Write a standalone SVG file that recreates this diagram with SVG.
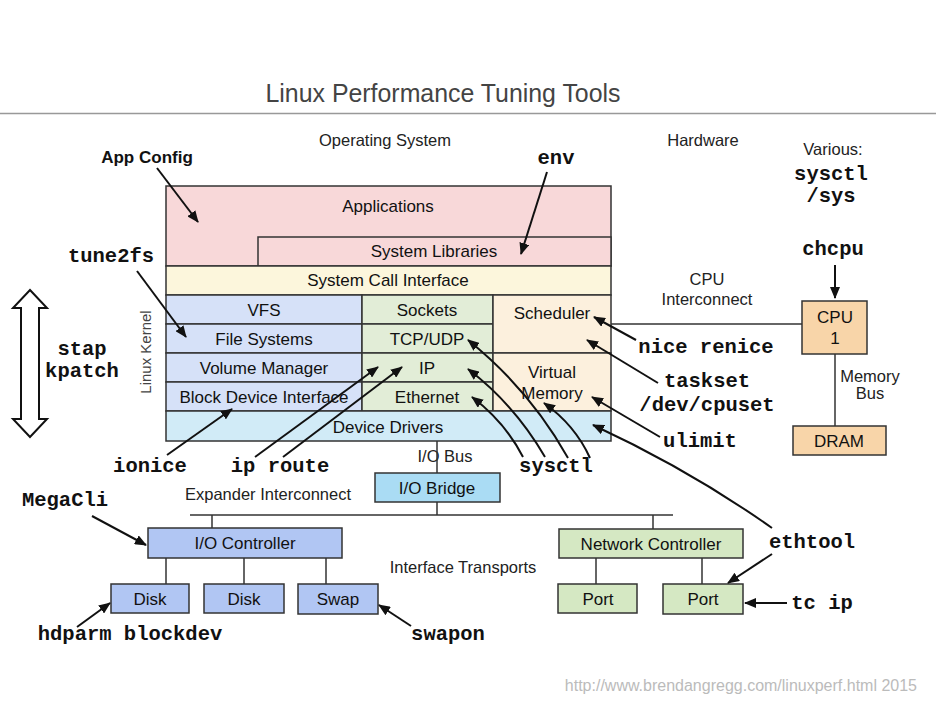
<svg xmlns="http://www.w3.org/2000/svg" width="936" height="702" viewBox="0 0 936 702">
<defs>
<marker id="ah" viewBox="0 0 12 10" refX="11" refY="5" markerWidth="12" markerHeight="10" markerUnits="userSpaceOnUse" orient="auto"><path d="M0,0 L12,5 L0,10 z" fill="#111"/></marker>
<style>
.box{stroke:#333;stroke-width:1.5}
.lbl{font-family:"Liberation Sans",Arial,sans-serif;font-size:17px;fill:#111;text-anchor:middle}
.free{font-family:"Liberation Sans",Arial,sans-serif;font-size:16.5px;fill:#222;text-anchor:middle}
.tool{font-family:"Liberation Mono","Courier New",monospace;font-size:20.5px;font-weight:bold;fill:#111;text-anchor:middle}
.arr{stroke:#111;stroke-width:2;fill:none;marker-end:url(#ah)}
.wire{stroke:#333;stroke-width:1.5;fill:none}
.pink{fill:#f8d8d9}.yel{fill:#fcf6dc}.blu{fill:#d6e1f8}.grn{fill:#e2edd7}.org{fill:#fcf0dd}.cyan{fill:#d1ebf7}
.hwb{fill:#b1c6f3}.hwg{fill:#d5e8c3}.hwo{fill:#f8d5a9}.hwc{fill:#aadcf4}
</style>
</defs>
<rect x="0" y="0" width="936" height="702" fill="#fff"/>

<g id="title">
<text x="443" y="102" font-family="'Liberation Sans',Arial,sans-serif" font-size="25" fill="#444" text-anchor="middle" textLength="355" lengthAdjust="spacingAndGlyphs">Linux Performance Tuning Tools</text>
<line x1="0" y1="113.5" x2="936" y2="113.5" stroke="#999" stroke-width="1.5"/>
</g>

<g id="labels">
<text class="free" x="385" y="146">Operating System</text>
<text class="free" x="703" y="146">Hardware</text>
<text class="free" x="833" y="155">Various:</text>
<text class="free" x="707" y="285">CPU</text>
<text class="free" x="707" y="305">Interconnect</text>
<text class="free" x="870" y="382">Memory</text>
<text class="free" x="870" y="399">Bus</text>
<text class="free" x="445" y="462" text-anchor="start">I/O Bus</text>
<text class="free" x="268" y="500">Expander Interconnect</text>
<text class="free" x="463" y="573">Interface Transports</text>
<text x="151" y="352" transform="rotate(-90 151 352)" font-family="'Liberation Sans',Arial,sans-serif" font-size="15" fill="#444" text-anchor="middle">Linux Kernel</text>
<text x="917" y="691" font-family="'Liberation Sans',Arial,sans-serif" font-size="16" fill="#bbb" text-anchor="end">http://www.brendangregg.com/linuxperf.html 2015</text>
</g>

<g id="applications"><rect class="box pink" x="166" y="186" width="445" height="80"/><text class="lbl" x="388" y="212">Applications</text></g>
<g id="system-libraries"><rect class="box pink" x="258" y="237" width="353" height="29"/><text class="lbl" x="434" y="257">System Libraries</text></g>
<g id="system-call-interface"><rect class="box yel" x="166" y="266" width="445" height="29"/><text class="lbl" x="388" y="286">System Call Interface</text></g>
<g id="vfs"><rect class="box blu" x="166" y="295" width="196" height="29"/><text class="lbl" x="264" y="316">VFS</text></g>
<g id="file-systems"><rect class="box blu" x="166" y="324" width="196" height="29"/><text class="lbl" x="264" y="345">File Systems</text></g>
<g id="volume-manager"><rect class="box blu" x="166" y="353" width="196" height="29"/><text class="lbl" x="264" y="374">Volume Manager</text></g>
<g id="block-device-interface"><rect class="box blu" x="166" y="382" width="196" height="29"/><text class="lbl" x="264" y="403">Block Device Interface</text></g>
<g id="sockets"><rect class="box grn" x="362" y="295" width="131" height="29"/><text class="lbl" x="427" y="316">Sockets</text></g>
<g id="tcp-udp"><rect class="box grn" x="362" y="324" width="131" height="29"/><text class="lbl" x="427" y="345">TCP/UDP</text></g>
<g id="ip"><rect class="box grn" x="362" y="353" width="131" height="29"/><text class="lbl" x="427" y="374">IP</text></g>
<g id="ethernet"><rect class="box grn" x="362" y="382" width="131" height="29"/><text class="lbl" x="427" y="403">Ethernet</text></g>
<g id="scheduler"><rect class="box org" x="493" y="295" width="118" height="58"/><text class="lbl" x="552" y="319">Scheduler</text></g>
<g id="virtual-memory"><rect class="box org" x="493" y="353" width="118" height="58"/><text class="lbl" x="552" y="378">Virtual</text><text class="lbl" x="552" y="399">Memory</text></g>
<g id="device-drivers"><rect class="box cyan" x="166" y="411" width="445" height="30"/><text class="lbl" x="388" y="433">Device Drivers</text></g>

<g id="io-bridge"><rect class="box hwc" x="375" y="473" width="125" height="29"/><text class="lbl" x="437" y="494">I/O Bridge</text></g>
<g id="io-controller"><rect class="box hwb" x="148" y="528" width="194" height="30"/><text class="lbl" x="245" y="549">I/O Controller</text></g>
<g id="disk1"><rect class="box hwb" x="111" y="584" width="78" height="29"/><text class="lbl" x="150" y="605">Disk</text></g>
<g id="disk2"><rect class="box hwb" x="204" y="584" width="80" height="29"/><text class="lbl" x="244" y="605">Disk</text></g>
<g id="swap"><rect class="box hwb" x="298" y="584" width="80" height="30"/><text class="lbl" x="338" y="605">Swap</text></g>
<g id="network-controller"><rect class="box hwg" x="559" y="529" width="184" height="29"/><text class="lbl" x="651" y="550">Network Controller</text></g>
<g id="port1"><rect class="box hwg" x="558" y="584" width="79" height="29"/><text class="lbl" x="598" y="605">Port</text></g>
<g id="port2"><rect class="box hwg" x="663" y="584" width="80" height="30"/><text class="lbl" x="703" y="605">Port</text></g>
<g id="cpu"><rect class="box hwo" x="802" y="301" width="65" height="53"/><text class="lbl" x="835" y="323">CPU</text><text class="lbl" x="835" y="344">1</text></g>
<g id="dram"><rect class="box hwo" x="793" y="426" width="93" height="29"/><text class="lbl" x="839" y="447">DRAM</text></g>

<g id="kernel-span">
<polygon points="30,290 47,308 39,308 39,419 47,419 30,437 13,419 21,419 21,308 13,308" fill="#fff" stroke="#111" stroke-width="2"/>
<text class="tool" x="82" y="355">stap</text>
<text class="tool" x="82" y="377">kpatch</text>
</g>

<g id="tools">
<text x="147" y="163" font-family="'Liberation Sans',Arial,sans-serif" font-size="17" font-weight="bold" fill="#111" text-anchor="middle">App Config</text>
<text class="tool" x="556" y="164">env</text>
<text class="tool" x="831" y="180">sysctl</text>
<text class="tool" x="831" y="202">/sys</text>
<text class="tool" x="833" y="255">chcpu</text>
<text class="tool" x="111" y="262">tune2fs</text>
<text class="tool" x="706" y="353">nice renice</text>
<text class="tool" x="707" y="387">taskset</text>
<text class="tool" x="707" y="411">/dev/cpuset</text>
<text class="tool" x="700" y="447">ulimit</text>
<text class="tool" x="150" y="472">ionice</text>
<text class="tool" x="280" y="472">ip route</text>
<text class="tool" x="556" y="472">sysctl</text>
<text class="tool" x="65" y="506">MegaCli</text>
<text class="tool" x="812" y="548">ethtool</text>
<text class="tool" x="822" y="609">tc ip</text>
<text class="tool" x="130" y="640">hdparm blockdev</text>
<text class="tool" x="448" y="640">swapon</text>
</g>

<g id="connectors">
<line class="wire" x1="611" y1="324" x2="802" y2="324"/>
<line class="wire" x1="835" y1="354" x2="835" y2="426"/>
<line class="wire" x1="437" y1="441" x2="437" y2="473"/>
<line class="wire" x1="437" y1="502" x2="437" y2="515"/>
<line class="wire" x1="190" y1="515" x2="673" y2="515"/>
<line class="wire" x1="212" y1="515" x2="212" y2="528"/>
<line class="wire" x1="653" y1="515" x2="653" y2="529"/>
<line class="wire" x1="166" y1="558" x2="166" y2="584"/>
<line class="wire" x1="244" y1="558" x2="244" y2="584"/>
<line class="wire" x1="326" y1="558" x2="326" y2="584"/>
<line class="wire" x1="596" y1="558" x2="596" y2="584"/>
<line class="wire" x1="702" y1="558" x2="702" y2="584"/>

<line class="arr" x1="157" y1="168" x2="198" y2="222"/>
<line class="arr" x1="547" y1="172" x2="521" y2="254"/>
<line class="arr" x1="835" y1="265" x2="835" y2="298"/>
<line class="arr" x1="137" y1="271" x2="186" y2="337"/>
<line class="arr" x1="636" y1="340" x2="594" y2="317"/>
<line class="arr" x1="658" y1="383" x2="587" y2="340"/>
<line class="arr" x1="660" y1="437" x2="592" y2="397"/>
<path class="arr" d="M772,528 Q690,470 593,425"/>
<line class="arr" x1="167" y1="455" x2="232" y2="409"/>
<line class="arr" x1="255" y1="457" x2="378" y2="367"/>
<line class="arr" x1="283" y1="457" x2="402" y2="367"/>
<path class="arr" d="M523,457 Q505,422 472,397"/>
<path class="arr" d="M545,457 Q515,405 468,369"/>
<path class="arr" d="M568,458 Q530,390 468,340"/>
<path class="arr" d="M590,458 Q575,425 544,403"/>
<line class="arr" x1="92" y1="516" x2="146" y2="545"/>
<line class="arr" x1="77" y1="627" x2="110" y2="603"/>
<line class="arr" x1="411" y1="626" x2="379" y2="605"/>
<line class="arr" x1="772" y1="554" x2="728" y2="583"/>
<line class="arr" x1="787" y1="603" x2="745" y2="603"/>
</g>
</svg>
